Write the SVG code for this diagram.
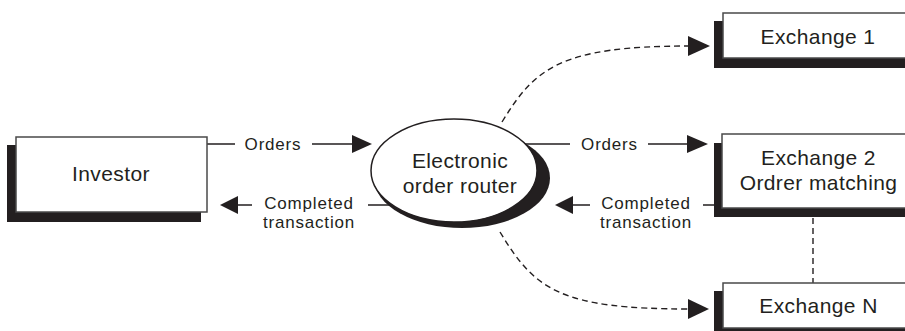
<svg xmlns="http://www.w3.org/2000/svg" width="905" height="331" viewBox="0 0 905 331">
  <style>
    .shadow { fill: #231f20; }
    .box { fill: #ffffff; stroke: #4a4a4a; stroke-width: 1.5; }
    .node-text { font-family: "Liberation Sans", Arial, sans-serif; font-size: 21px; letter-spacing: 0.4px; fill: #231f20; text-anchor: middle; }
    .label { font-family: "Liberation Sans", Arial, sans-serif; font-size: 17px; letter-spacing: 0.8px; fill: #231f20; text-anchor: middle; }
    .line { fill: none; stroke: #231f20; stroke-width: 1.5; }
    .dash { fill: none; stroke: #231f20; stroke-width: 1.4; stroke-dasharray: 6 4; }
    .head { fill: #231f20; }
  </style>
  <rect width="905" height="331" fill="#ffffff"/>

  <!-- connectors -->
  <g id="connectors">
    <!-- Investor -> router : Orders -->
    <path class="line" d="M207 144 H235 M312 144 H354"/>
    <polygon class="head" points="352,135 372,144 352,153"/>
    <!-- router -> Investor : Completed transaction -->
    <path class="line" d="M236 205 H252 M368 205 H394"/>
    <polygon class="head" points="238,196 220,205 238,214"/>
    <!-- router -> Exchange 2 : Orders -->
    <path class="line" d="M524 144 H570 M648 144 H689"/>
    <polygon class="head" points="687,135 708,144 687,153"/>
    <!-- Exchange 2 -> router : Completed transaction -->
    <path class="line" d="M571 205 H590 M703 205 H722"/>
    <polygon class="head" points="573,196 555,205 573,214"/>
    <!-- router -> Exchange 1 -->
    <path class="dash" d="M502 122 C535 68 560 46 690 46"/>
    <polygon class="head" points="688,36 710,46 688,56"/>
    <!-- router -> Exchange N -->
    <path class="dash" d="M500 232 C535 290 560 309 690 309"/>
    <polygon class="head" points="688,299 709,309 688,319"/>
    <!-- Exchange 2 - Exchange N -->
    <path class="dash" d="M813 218 V283"/>
  </g>

  <g id="investor">
    <rect class="shadow" x="7" y="145" width="194" height="77"/>
    <rect class="box" x="16" y="137" width="191" height="75"/>
    <text class="node-text" x="111" y="181">Investor</text>
  </g>

  <g id="router">
    <ellipse class="shadow" cx="462" cy="178" rx="88" ry="50"/>
    <ellipse fill="#ffffff" stroke="#231f20" stroke-width="1.5" cx="454" cy="170.5" rx="83" ry="51.5"/>
    <text class="node-text" x="460" y="168">Electronic</text>
    <text class="node-text" x="460" y="193">order router</text>
  </g>

  <g id="exchange1">
    <rect class="shadow" x="714" y="21" width="200" height="47"/>
    <rect class="box" x="723" y="13" width="200" height="45"/>
    <text class="node-text" x="818" y="44">Exchange 1</text>
  </g>

  <g id="exchange2">
    <rect class="shadow" x="714" y="143" width="200" height="74"/>
    <rect class="box" x="722" y="134" width="200" height="74"/>
    <text class="node-text" x="818.5" y="165">Exchange 2</text>
    <text class="node-text" x="818.5" y="190">Ordrer matching</text>
  </g>

  <g id="exchangeN">
    <rect class="shadow" x="714" y="291" width="200" height="46"/>
    <rect class="box" x="723" y="283" width="200" height="45"/>
    <text class="node-text" x="818.5" y="313">Exchange N</text>
  </g>

  <g id="labels">
    <text class="label" x="273" y="150">Orders</text>
    <text class="label" x="309" y="209">Completed</text>
    <text class="label" x="309" y="228">transaction</text>
    <text class="label" x="609.5" y="150">Orders</text>
    <text class="label" x="646" y="209">Completed</text>
    <text class="label" x="646" y="228">transaction</text>
  </g>
</svg>
